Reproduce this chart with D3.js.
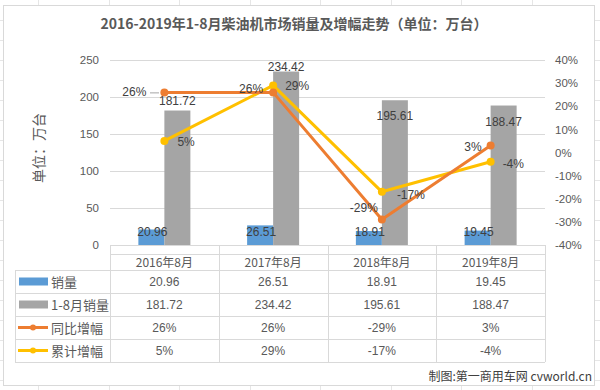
<!DOCTYPE html>
<html><head><meta charset="utf-8">
<script src="https://cdn.jsdelivr.net/npm/d3@7"></script>
<style>body{margin:0;background:#fff;}svg{display:block;font-family:"Noto Sans CJK SC","Noto Sans",sans-serif;}</style>
</head><body><svg id="c" width="600" height="390"></svg>
<script>
const categories = ["2016年8月","2017年8月","2018年8月","2019年8月"];
const monthly = [20.96, 26.51, 18.91, 19.45];
const cumulative = [181.72, 234.42, 195.61, 188.47];
const yoy = [26, 26, -29, 3];
const cumGrowth = [5, 29, -17, -4];
const leftTicks = [0, 50, 100, 150, 200, 250];
const rightTicks = [-40, -30, -20, -10, 0, 10, 20, 30, 40];
const seriesNames = ["销量", "1-8月销量", "同比增幅", "累计增幅"];
const title = "2016-2019年1-8月柴油机市场销量及增幅走势（单位：万台）";

const C = {blue:"#5b9bd5", gray:"#a5a5a5", orange:"#ed7d31", yellow:"#ffc000", text:"#595959", grid:"#d9d9d9"};
const svg = d3.select("#c");

// spreadsheet background lines outside the chart frame
const bg = svg.append("g").attr("stroke","#e6e6e6").attr("stroke-width",1);
d3.range(38, 600, 70.5).forEach(x => {
  bg.append("line").attr("x1",Math.round(x)+.5).attr("x2",Math.round(x)+.5).attr("y1",0).attr("y2",5);
  bg.append("line").attr("x1",Math.round(x)+.5).attr("x2",Math.round(x)+.5).attr("y1",386).attr("y2",390);
});
d3.range(20, 390, 20).forEach(y => {
  bg.append("line").attr("x1",595).attr("x2",600).attr("y1",y+.5).attr("y2",y+.5);
  bg.append("line").attr("x1",0).attr("x2",3).attr("y1",y+.5).attr("y2",y+.5);
});
svg.append("rect").attr("x",3.5).attr("y",5.5).attr("width",591).attr("height",380)
  .attr("fill","#fff").attr("stroke",C.grid);

svg.append("text").attr("x",294).attr("y",29).attr("text-anchor","middle")
  .attr("font-size",14).attr("font-weight","bold").attr("fill",C.text).text(title);

const x = d3.scaleBand().domain(categories).range([110,545]).padding(0);
const yL = d3.scaleLinear().domain([0,250]).range([245,60]);
const yR = d3.scaleLinear().domain([-40,40]).range([245,60]);

// gridlines
svg.append("g").selectAll("line").data(leftTicks).join("line")
  .attr("x1",110).attr("x2",545).attr("y1",d=>Math.round(yL(d))+.5).attr("y2",d=>Math.round(yL(d))+.5)
  .attr("stroke",C.grid);

// axes
const axL = svg.append("g").attr("transform","translate(110,0)")
  .call(d3.axisLeft(yL).tickValues(leftTicks).tickSize(0).tickPadding(11));
axL.select(".domain").remove();
axL.selectAll("text").attr("font-size",11.5).attr("fill",C.text).attr("font-family","Liberation Sans, Arial, sans-serif");
const axR = svg.append("g").attr("transform","translate(545,0)")
  .call(d3.axisRight(yR).tickValues(rightTicks).tickSize(0).tickPadding(10).tickFormat(d=>d+"%"));
axR.select(".domain").remove();
axR.selectAll("text").attr("font-size",11.5).attr("fill",C.text).attr("font-family","Liberation Sans, Arial, sans-serif");

svg.append("text").attr("transform","translate(44,148) rotate(-90)").attr("text-anchor","middle")
  .attr("font-size",14).attr("fill",C.text).text("单位：万台");

const bw = 26;
// bars
svg.append("g").selectAll("rect").data(monthly).join("rect")
  .attr("x",(d,i)=>x(categories[i])+x.bandwidth()/2-bw).attr("width",bw)
  .attr("y",d=>yL(d)).attr("height",d=>yL(0)-yL(d)).attr("fill",C.blue);
svg.append("g").selectAll("rect").data(cumulative).join("rect")
  .attr("x",(d,i)=>x(categories[i])+x.bandwidth()/2).attr("width",bw)
  .attr("y",d=>yL(d)).attr("height",d=>yL(0)-yL(d)).attr("fill",C.gray);

const num = "Liberation Sans, Arial, sans-serif";
// bar labels
svg.append("g").selectAll("text").data(monthly).join("text")
  .attr("x",(d,i)=>x(categories[i])+x.bandwidth()/2-bw/2+1).attr("y",yL(0)-9)
  .attr("text-anchor","middle").attr("font-size",12).attr("fill","#404040").attr("font-family",num)
  .text(d=>d.toFixed(2));
const grayLabelDy = [-6, -1, 20, 20];
svg.append("g").selectAll("text").data(cumulative).join("text")
  .attr("x",(d,i)=>x(categories[i])+x.bandwidth()/2+bw/2).attr("y",(d,i)=>yL(d)+grayLabelDy[i])
  .attr("text-anchor","middle").attr("font-size",12).attr("fill","#404040").attr("font-family",num)
  .text(d=>d.toFixed(2));

// lines
const cx = i => x(categories[i]) + x.bandwidth()/2;
function drawLine(vals, color){
  svg.append("path").datum(vals)
    .attr("d", d3.line().x((d,i)=>cx(i)).y(d=>yR(d)))
    .attr("fill","none").attr("stroke",color).attr("stroke-width",3).attr("stroke-linejoin","round");
  svg.append("g").selectAll("circle").data(vals).join("circle")
    .attr("cx",(d,i)=>cx(i)).attr("cy",d=>yR(d)).attr("r",4).attr("fill",color);
}
drawLine(cumGrowth, C.yellow);
drawLine(yoy, C.orange);

// line labels (offsets relative to points)
const yoyLabelOff = [[-18,4,"end"],[-10,1,"end"],[-4,-8,"end"],[-9,5,"end"]];
const cumLabelOff = [[13,5,"start"],[12,5,"start"],[15,7,"start"],[12,6,"start"]];
svg.append("line").attr("x1",150).attr("x2",159).attr("y1",yR(yoy[0])+.5).attr("y2",yR(yoy[0])+.5).attr("stroke","#a6a6a6");
svg.append("g").selectAll("text").data(yoy).join("text")
  .attr("x",(d,i)=>cx(i)+yoyLabelOff[i][0]).attr("y",(d,i)=>yR(d)+yoyLabelOff[i][1])
  .attr("text-anchor",(d,i)=>yoyLabelOff[i][2]).attr("font-size",12).attr("fill","#404040").attr("font-family",num)
  .text(d=>d+"%");
svg.append("g").selectAll("text").data(cumGrowth).join("text")
  .attr("x",(d,i)=>cx(i)+cumLabelOff[i][0]).attr("y",(d,i)=>yR(d)+cumLabelOff[i][1])
  .attr("text-anchor",(d,i)=>cumLabelOff[i][2]).attr("font-size",12).attr("fill","#404040").attr("font-family",num)
  .text(d=>d+"%");

// data table
const tb = svg.append("g").attr("stroke",C.grid).attr("fill","none");
const rowsY = [270, 293, 316, 339, 362];
tb.append("line").attr("x1",110).attr("x2",545).attr("y1",254.5).attr("y2",254.5);
rowsY.forEach(y=>tb.append("line").attr("x1",15).attr("x2",545).attr("y1",y+.5).attr("y2",y+.5));
tb.append("line").attr("x1",15.5).attr("x2",15.5).attr("y1",270).attr("y2",362);
categories.forEach((c,i)=>tb.append("line").attr("x1",Math.round(x(c))+.5).attr("x2",Math.round(x(c))+.5).attr("y1",245).attr("y2",362));
tb.append("line").attr("x1",545.5).attr("x2",545.5).attr("y1",245).attr("y2",362);

svg.append("g").selectAll("text").data(categories).join("text")
  .attr("x",d=>x(d)+x.bandwidth()/2).attr("y",267).attr("text-anchor","middle")
  .attr("font-size",12).attr("fill",C.text).text(d=>d);

const rowVals = [monthly.map(d=>d.toFixed(2)), cumulative.map(d=>d.toFixed(2)), yoy.map(d=>d+"%"), cumGrowth.map(d=>d+"%")];
const rowColors = [C.blue, C.gray, C.orange, C.yellow];
rowVals.forEach((vals,r)=>{
  const yc = (rowsY[r]+rowsY[r+1])/2;
  vals.forEach((v,i)=>svg.append("text").attr("x",cx(i)).attr("y",yc+4.5).attr("text-anchor","middle")
    .attr("font-size",12).attr("fill",C.text).attr("font-family",num).text(v));
  if(r<2){
    svg.append("rect").attr("x",19).attr("y",yc-4).attr("width",29).attr("height",8).attr("fill",rowColors[r]);
  } else {
    svg.append("line").attr("x1",18).attr("x2",48).attr("y1",yc).attr("y2",yc).attr("stroke",rowColors[r]).attr("stroke-width",3);
    svg.append("circle").attr("cx",33).attr("cy",yc).attr("r",3).attr("fill",rowColors[r]);
  }
  svg.append("text").attr("x",51).attr("y",yc+5).attr("font-size",13).attr("fill",C.text).text(seriesNames[r]);
});

svg.append("text").attr("x",592).attr("y",381).attr("text-anchor","end").attr("font-size",12).attr("fill","#404040")
  .text("制图:第一商用车网 cvworld.cn");
</script></body></html>
